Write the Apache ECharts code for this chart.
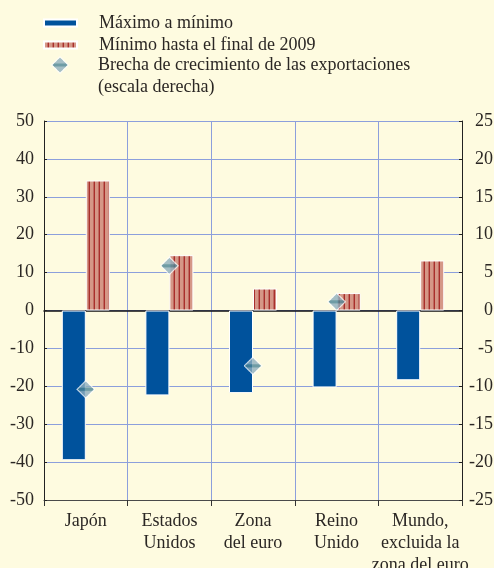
<!DOCTYPE html>
<html>
<head>
<meta charset="utf-8">
<script src="https://cdn.jsdelivr.net/npm/echarts@6/dist/echarts.min.js"></script>
<style>
    html, body { margin: 0; padding: 0; background: #fefbe0; }
    #chart { width: 494px; height: 568px; }
</style>
</head>
<body>
<div id="chart"></div>
<script>
const categories = ['Japón', 'Estados\nUnidos', 'Zona\ndel euro', 'Reino\nUnido', 'Mundo,\nexcluida la\nzona del euro'];
const peakToTrough = [-39.5, -22.4, -21.8, -20.3, -18.4];
const troughToEnd2009 = [34.3, 14.6, 5.8, 4.6, 13.2];
const exportGrowthGap = [-10.4, 5.9, -7.3, 1.15, null];
const leftTicks = { min: -50, max: 50, interval: 10 };
const rightTicks = { min: -25, max: 25, interval: 5 };

const names = ['Máximo a mínimo', 'Mínimo hasta el final de 2009', 'Brecha de crecimiento de las exportaciones'];
const font = '"Liberation Serif", "Times New Roman", serif';
const textColor = '#2b2724';
const gridColor = '#8c9fdc';

function stripePattern() {
    const c = document.createElement('canvas');
    c.width = 5;
    c.height = 4;
    const ctx = c.getContext('2d');
    ctx.fillStyle = '#d59787';
    ctx.fillRect(0, 0, 5, 4);
    ctx.fillStyle = '#c06a60';
    ctx.fillRect(3, 0, 1, 4);
    ctx.fillStyle = '#a92f2c';
    ctx.fillRect(4, 0, 1, 4);
    return c;
}

function diamondImage() {
    const c = document.createElement('canvas');
    c.width = 30;
    c.height = 30;
    const ctx = c.getContext('2d');
    function diamond(inset) {
        ctx.beginPath();
        ctx.moveTo(15, inset);
        ctx.lineTo(30 - inset, 15);
        ctx.lineTo(15, 30 - inset);
        ctx.lineTo(inset, 15);
        ctx.closePath();
    }
    diamond(0);
    ctx.fillStyle = '#ffffff';
    ctx.fill();
    diamond(2.5);
    ctx.fillStyle = '#8fb0be';
    ctx.fill();
    ctx.save();
    ctx.clip();
    ctx.fillStyle = '#4c8596';
    ctx.fillRect(0, 12.5, 30, 5);
    ctx.restore();
    return c.toDataURL();
}

const diamondSymbol = 'image://' + diamondImage();
const stripes = { image: stripePattern(), repeat: 'repeat' };

const chart = echarts.init(document.getElementById('chart'));

const legendBase = {
    orient: 'vertical',
    padding: 0,
    selectedMode: false,
    textStyle: { fontFamily: font, fontSize: 18, color: textColor, lineHeight: 22 }
};

chart.setOption({
    backgroundColor: '#fefbe0',
    animation: false,
    legend: [
        Object.assign({}, legendBase, {
            left: 43, top: 12, itemWidth: 33, itemHeight: 7,
            data: [{ name: names[0], icon: 'rect' }],
            textStyle: Object.assign({}, legendBase.textStyle, { padding: [0, 0, 0, 17] })
        }),
        Object.assign({}, legendBase, {
            left: 43, top: 34, itemWidth: 33, itemHeight: 7,
            data: [{ name: names[1], icon: 'rect' }],
            textStyle: Object.assign({}, legendBase.textStyle, { padding: [0, 0, 0, 17] })
        }),
        Object.assign({}, legendBase, {
            left: 51, top: 54, itemWidth: 18, itemHeight: 18,
            data: [{ name: names[2], icon: diamondSymbol }],
            textStyle: Object.assign({}, legendBase.textStyle, { padding: [0, 0, 0, 24] })
        })
    ],
    graphic: [{
        type: 'text',
        left: 98,
        top: 78,
        style: { text: '(escala derecha)', font: '18px ' + font, fill: textColor }
    }],
    grid: { left: 44, right: 32, top: 121, bottom: 68, outerBoundsMode: 'none' },
    xAxis: [{
        type: 'category',
        data: categories,
        boundaryGap: true,
        position: 'bottom',
        axisLine: { onZero: false, lineStyle: { color: '#4a4a4a', width: 1 } },
        axisTick: { show: true, length: 6, lineStyle: { color: '#333' } },
        axisLabel: { fontFamily: font, fontSize: 18, color: textColor, lineHeight: 22, margin: 10, interval: 0 },
        splitLine: { show: true, lineStyle: { color: gridColor, width: 1 } }
    }, {
        type: 'category',
        data: categories,
        position: 'bottom',
        axisLine: { onZero: true, lineStyle: { color: '#111', width: 1.5 } },
        axisTick: { show: false },
        axisLabel: { show: false },
        splitLine: { show: false }
    }],
    yAxis: [{
        type: 'value',
        min: leftTicks.min,
        max: leftTicks.max,
        interval: leftTicks.interval,
        axisLine: { show: true, lineStyle: { color: '#222' } },
        axisTick: { show: true, inside: true, length: 3, lineStyle: { color: '#222' } },
        axisLabel: { fontFamily: font, fontSize: 18, color: textColor, margin: 10 },
        splitLine: { show: true, lineStyle: { color: gridColor, width: 1 } }
    }, {
        type: 'value',
        position: 'right',
        min: rightTicks.min,
        max: rightTicks.max,
        interval: rightTicks.interval,
        axisLine: { show: true, lineStyle: { color: '#222' } },
        axisTick: { show: true, inside: true, length: 3, lineStyle: { color: '#222' } },
        axisLabel: { fontFamily: font, fontSize: 18, color: textColor, margin: 31, align: 'right' },
        splitLine: { show: false }
    }],
    series: [{
        name: names[0],
        type: 'bar',
        data: peakToTrough,
        barWidth: 24,
        barGap: '0%',
        itemStyle: { color: '#00529c', borderColor: '#ffffff', borderWidth: 1 }
    }, {
        name: names[1],
        type: 'bar',
        data: troughToEnd2009,
        barWidth: 24,
        barGap: '0%',
        itemStyle: { color: stripes, borderColor: '#ffffff', borderWidth: 1 }
    }, {
        name: names[2],
        type: 'scatter',
        yAxisIndex: 1,
        data: exportGrowthGap,
        symbol: diamondSymbol,
        symbolSize: 19,
        z: 5
    }]
});
</script>
</body>
</html>
